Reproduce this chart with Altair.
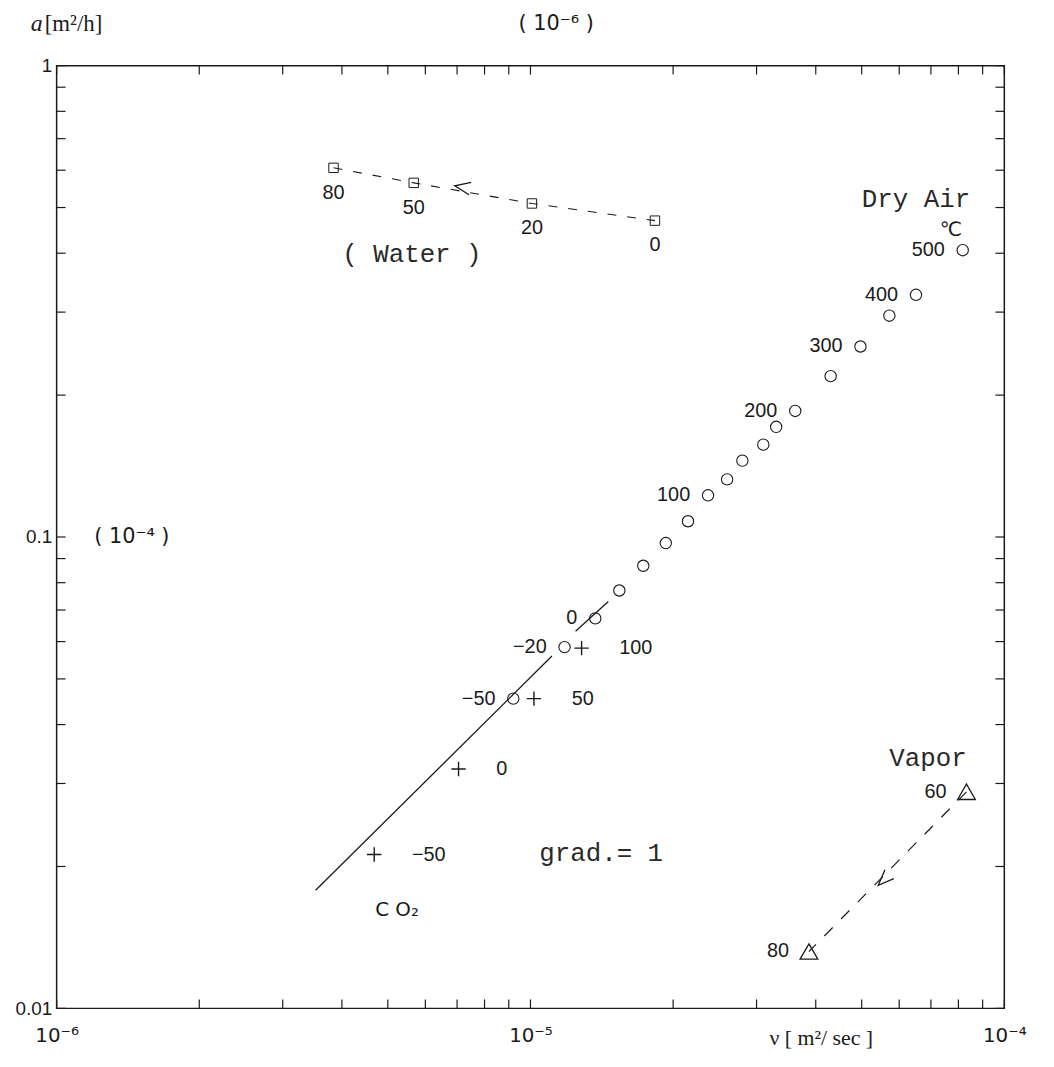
import altair as alt
import pandas as pd

# ---------------- data ----------------
# Dry air (circles): kinematic viscosity nu [m2/s], thermal diffusivity a [m2/h]
air_nu = [9.2e-6, 11.8e-6, 13.7e-6, 15.4e-6, 17.3e-6, 19.3e-6, 21.5e-6, 23.7e-6, 26.0e-6,
          28.0e-6, 31.0e-6, 33.0e-6, 36.2e-6, 43.0e-6, 49.7e-6, 57.2e-6, 65.1e-6, 81.7e-6]
air_a = [0.0454, 0.0584, 0.0672, 0.0770, 0.0869, 0.0971, 0.108, 0.1226, 0.1325,
         0.1452, 0.157, 0.1713, 0.1851, 0.2194, 0.2536, 0.2948, 0.3265, 0.4059]
air_label = ["−50", "−20", "0", "", "", "", "", "100", "", "", "", "", "200", "", "300", "", "400", "500"]

# CO2 (crosses)
co2_nu = [4.68e-6, 7.05e-6, 10.17e-6, 12.82e-6]
co2_a = [0.0212, 0.0322, 0.0454, 0.0581]
co2_label = ["−50", "0", "50", "100"]

# Water (squares, scaled 10^-6 / 10^-4)
water_nu = [3.84e-6, 5.67e-6, 10.07e-6, 18.31e-6]
water_a = [0.607, 0.564, 0.510, 0.469]
water_label = ["80", "50", "20", "0"]

# Vapor (triangles)
vapor_nu = [83.2e-6, 38.7e-6]
vapor_a = [0.0288, 0.0132]
vapor_label = ["60", "80"]

# grad = 1 reference line (two pieces, broken around a marker)
grad_nu = [3.52e-6, 11.1e-6, 12.45e-6, 14.6e-6]
grad_a = [0.0178, 0.0559, 0.0631, 0.0730]
grad_seg = ["a", "a", "b", "b"]

# arrow heads on the dashed paths
arrow_nu = [6.92e-6, 5.42e-5]
arrow_a = [0.556, 0.01824]
arrow_angle = [280, 225]

# annotations
mono_text = ["Dry Air", "Vapor", "( Water )", "grad.= 1"]
mono_nu = [6.51e-5, 6.90e-5, 5.62e-6, 1.41e-5]
mono_a = [0.520, 0.0339, 0.398, 0.0214]

sans_text = ["C O₂", "℃"]
sans_nu = [5.23e-6, 7.71e-5]
sans_a = [0.01616, 0.449]

# axis ticks
mult = [1, 2, 3, 4, 5, 6, 7, 8, 9]
x_decades = [1e-6, 1e-5]
y_decades = [0.01, 0.1]
x_ticks = [m * d for d in x_decades for m in mult] + [1e-4]
y_ticks = [m * d for d in y_decades for m in mult] + [1.0]

# ---------------- chart ----------------
W, H = 955, 950
INK = "#1a1a1a"
SANS = "Liberation Sans"
SUP = "DejaVu Sans"
MONO = "Liberation Mono"
SERIF = "Liberation Serif"

xscale = alt.Scale(type="log", domain=[1e-6, 1e-4], nice=False)
yscale = alt.Scale(type="log", domain=[0.01, 1], nice=False)

xaxis = alt.Axis(values=[1e-6, 1e-5, 1e-4],
                 labelExpr="datum.value < 5e-6 ? '10⁻⁶' : datum.value < 5e-5 ? '10⁻⁵' : '10⁻⁴'",
                 ticks=False, domain=False, grid=False, labelFont=SUP, labelFontSize=20,
                 labelColor=INK, labelPadding=17, labelFlush=False,
                 title="ν [ m²/ sec ]", titleFont=SERIF, titleFontSize=22, titleFontWeight="normal",
                 titleColor=INK, titleX=770, titleY=29, titleBaseline="middle", titleAlign="center")
yaxis = alt.Axis(values=[0.01, 0.1, 1],
                 labelExpr="datum.value < 0.05 ? '0.01' : datum.value < 0.5 ? '0.1' : '1'",
                 ticks=False, domain=False, grid=False, labelFont=SANS, labelFontSize=19,
                 labelColor=INK, labelPadding=5, labelFlush=False, title=None)


def X():
    return alt.X("nu:Q", scale=xscale, axis=xaxis)


def Y():
    return alt.Y("a:Q", scale=yscale, axis=yaxis)


air = pd.DataFrame({"nu": air_nu, "a": air_a, "t": air_label})
co2 = pd.DataFrame({"nu": co2_nu, "a": co2_a, "t": co2_label})
water = pd.DataFrame({"nu": water_nu, "a": water_a, "t": water_label, "o": list(range(len(water_nu)))})
vapor = pd.DataFrame({"nu": vapor_nu, "a": vapor_a, "t": vapor_label, "o": list(range(len(vapor_nu)))})
grad = pd.DataFrame({"nu": grad_nu, "a": grad_a, "s": grad_seg})
arrows = pd.DataFrame({"nu": arrow_nu, "a": arrow_a, "ang": arrow_angle})
mono = pd.DataFrame({"nu": mono_nu, "a": mono_a, "t": mono_text})
sans = pd.DataFrame({"nu": sans_nu, "a": sans_a, "t": sans_text})
xt = pd.DataFrame({"nu": x_ticks})
yt = pd.DataFrame({"a": y_ticks})

TL = 9
layers = []
# inward ticks
layers.append(alt.Chart(xt).mark_rule(color=INK, strokeWidth=1.2).encode(x=X(), y=alt.value(0), y2=alt.value(TL)))
layers.append(alt.Chart(xt).mark_rule(color=INK, strokeWidth=1.2).encode(x=X(), y=alt.value(H), y2=alt.value(H - TL)))
layers.append(alt.Chart(yt).mark_rule(color=INK, strokeWidth=1.2).encode(y=Y(), x=alt.value(0), x2=alt.value(TL)))
layers.append(alt.Chart(yt).mark_rule(color=INK, strokeWidth=1.2).encode(y=Y(), x=alt.value(W), x2=alt.value(W - TL)))

# grad = 1 line
layers.append(alt.Chart(grad).mark_line(color=INK, strokeWidth=1.3).encode(x=X(), y=Y(), detail="s:N"))
# dashed paths
layers.append(alt.Chart(water).mark_line(color=INK, strokeWidth=1.1, strokeDash=[9, 11]).encode(x=X(), y=Y(), order="o:Q"))
layers.append(alt.Chart(vapor).mark_line(color=INK, strokeWidth=1.2, strokeDash=[12, 12]).encode(x=X(), y=Y(), order="o:Q"))
layers.append(alt.Chart(arrows).mark_point(shape="M-0.4,1L0,0L0.4,1", size=1000, filled=False,
                                             color=INK, strokeWidth=1.3, opacity=1)
              .encode(x=X(), y=Y(), angle=alt.Angle("ang:Q", scale=None)))

# markers
layers.append(alt.Chart(air).mark_point(shape="circle", size=130, filled=False, color=INK,
                                          strokeWidth=1.1, opacity=1).encode(x=X(), y=Y()))
layers.append(alt.Chart(co2).mark_point(shape="M-1,0L1,0M0,-1L0,1", size=210, filled=False, color=INK,
                                          strokeWidth=1.4, opacity=1).encode(x=X(), y=Y()))
layers.append(alt.Chart(water).mark_point(shape="square", size=90, filled=False, color=INK,
                                            strokeWidth=1.0, opacity=1).encode(x=X(), y=Y()))
layers.append(alt.Chart(vapor).mark_point(shape="triangle-up", size=320, filled=False, color=INK,
                                            strokeWidth=1.3, opacity=1).encode(x=X(), y=Y()))

# point labels
layers.append(alt.Chart(air).mark_text(align="right", baseline="middle", dx=-18, font=SANS, fontSize=20,
                                         color=INK).encode(x=X(), y=Y(), text="t:N"))
layers.append(alt.Chart(co2).mark_text(align="left", baseline="middle", dx=38, font=SANS, fontSize=20,
                                         color=INK).encode(x=X(), y=Y(), text="t:N"))
layers.append(alt.Chart(water).mark_text(align="center", baseline="middle", dy=25, font=SANS, fontSize=20,
                                           color=INK).encode(x=X(), y=Y(), text="t:N"))
layers.append(alt.Chart(vapor).mark_text(align="right", baseline="middle", dx=-20, font=SANS, fontSize=20,
                                           color=INK).encode(x=X(), y=Y(), text="t:N"))

# annotations
layers.append(alt.Chart(mono).mark_text(align="center", baseline="middle", font=MONO, fontSize=26,
                                          color="#2a2a2a").encode(x=X(), y=Y(), text="t:N"))
layers.append(alt.Chart(sans).mark_text(align="center", baseline="middle", font=SUP, fontSize=20,
                                          color=INK).encode(x=X(), y=Y(), text="t:N"))

# secondary scale notes for water
note_left = pd.DataFrame({"nu": [1.2e-6], "a": [0.1], "t": ["( 10⁻⁴ )"]})
note_top = pd.DataFrame({"nu": [1e-5], "t": ["( 10⁻⁶ )"]})
layers.append(alt.Chart(note_left).mark_text(align="left", baseline="middle", font=SUP, fontSize=21,
                                               color=INK).encode(x=X(), y=Y(), text="t:N"))
layers.append(alt.Chart(note_top).mark_text(align="center", baseline="middle", dx=26, font=SUP, fontSize=21,
                                              color=INK).encode(x=X(), y=alt.value(-42), text="t:N"))

# y-axis unit title (italic a + unit)
ya = pd.DataFrame({"t": ["a"]})
yu = pd.DataFrame({"t": ["[m²/h]"]})
layers.append(alt.Chart(ya).mark_text(align="left", baseline="middle", font=SERIF, fontStyle="italic",
                                        fontSize=24, color=INK).encode(x=alt.value(-26), y=alt.value(-42), text="t:N"))
layers.append(alt.Chart(yu).mark_text(align="left", baseline="middle", font=SERIF, fontSize=23,
                                        color=INK).encode(x=alt.value(-12), y=alt.value(-42), text="t:N"))

chart = alt.layer(*layers).properties(
    width=W, height=H,
    autosize=alt.AutoSizeParams(type="none"),
    padding={"left": 49, "top": 54, "right": 42, "bottom": 55},
    background="white",
).configure_view(stroke=INK, strokeWidth=1.5)

chart.save("out.html", embed_options={"renderer": "svg", "actions": False})
